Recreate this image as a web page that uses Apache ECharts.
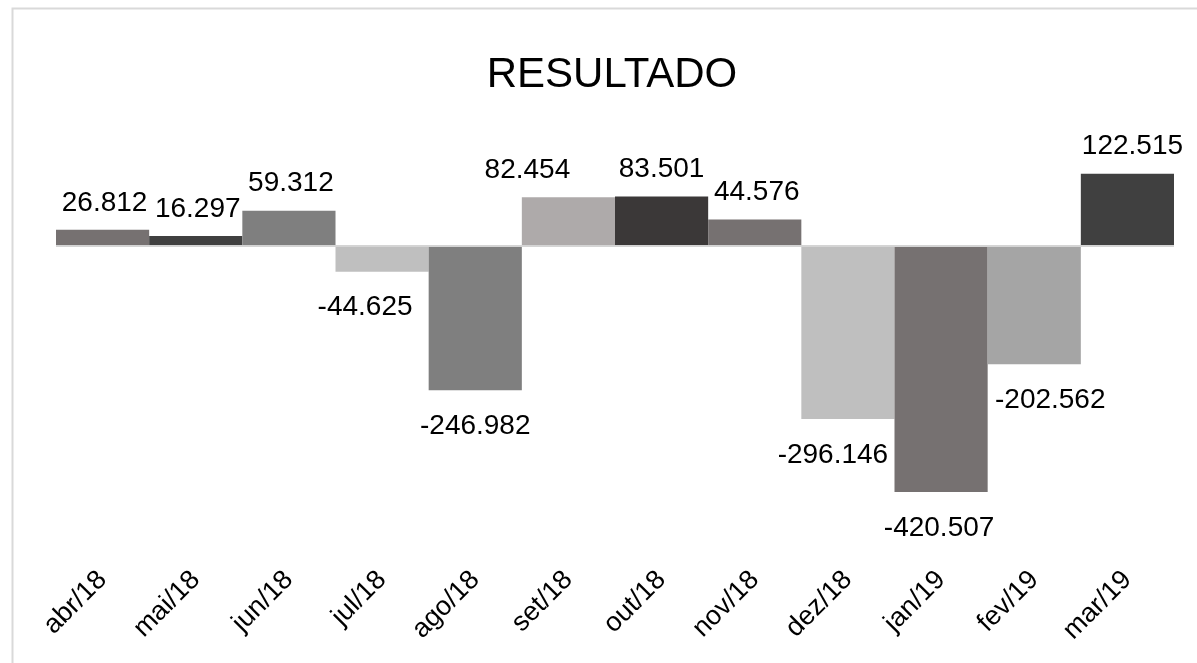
<!DOCTYPE html>
<html>
<head>
<meta charset="utf-8">
<script src="https://cdn.jsdelivr.net/npm/echarts@6/dist/echarts.min.js"></script>
<style>
  html, body { margin: 0; padding: 0; background: #fff; }
  #chart { width: 1197px; height: 663px; }
</style>
</head>
<body>
<div id="chart"></div>
<script>
// dados do gráfico
var meses = ['abr/18', 'mai/18', 'jun/18', 'jul/18', 'ago/18', 'set/18', 'out/18', 'nov/18', 'dez/18', 'jan/19', 'fev/19', 'mar/19'];
var resultado = [26812, 16297, 59312, -44625, -246982, 82454, 83501, 44576, -296146, -420507, -202562, 122515];

// cores de cada barra
var cores = ['#767171', '#404040', '#7f7f7f', '#bfbfbf', '#7f7f7f', '#aeaaaa', '#3b3838', '#767171', '#bfbfbf', '#767171', '#a5a5a5', '#404040'];
// deslocamento horizontal dos rótulos (ajustes manuais do original)
var desloc = [2, 2, 2, -17, 0, -41, 0, 2, -15, -2, 16, 5];

function fmt(v) {
  var s = String(Math.abs(v)).replace(/\B(?=(\d{3})+(?!\d))/g, '.');
  return (v < 0 ? '-' : '') + s;
}

var chart = echarts.init(document.getElementById('chart'));

var dados = resultado.map(function (v, i) {
  return {
    value: v,
    itemStyle: { color: cores[i] },
    label: {
      position: v >= 0 ? 'top' : 'bottom',
      distance: v >= 0 ? 13 : 22,
      offset: [desloc[i], 0]
    }
  };
});

var option = {
  backgroundColor: '#fff',
  animation: false,
  graphic: [
    {
      type: 'rect',
      shape: { x: 12.5, y: 8.5, width: 1300, height: 800 },
      style: { fill: 'none', stroke: '#d9d9d9', lineWidth: 2 },
      silent: true
    },
    {
      type: 'text',
      x: 612,
      y: 75,
      style: {
        text: 'RESULTADO',
        fontSize: 42,
        fontFamily: 'Liberation Sans, Arial, sans-serif',
        fill: '#000',
        align: 'center',
        verticalAlign: 'middle'
      }
    }
  ],
  grid: { left: 56, right: 23, top: 157.6, bottom: 124.5 },
  xAxis: {
    type: 'category',
    data: meses,
    axisLine: { show: false, onZero: false },
    axisTick: { show: false },
    axisLabel: {
      interval: 0,
      rotate: 45,
      margin: 37,
      fontSize: 27,
      color: '#000',
      fontFamily: 'Liberation Sans, Arial, sans-serif'
    }
  },
  yAxis: {
    type: 'value',
    min: -500000,
    max: 150000,
    show: false,
    splitLine: { show: false }
  },
  series: [{
    type: 'bar',
    data: dados,
    barCategoryGap: '0%',
    label: {
      show: true,
      fontSize: 28,
      color: '#000',
      fontFamily: 'Liberation Sans, Arial, sans-serif',
      formatter: function (p) { return fmt(p.value); }
    },
    markLine: {
      silent: true,
      symbol: 'none',
      label: { show: false },
      lineStyle: { color: '#d4d4d4', width: 2, type: 'solid' },
      data: [{ yAxis: 0 }]
    }
  }]
};

chart.setOption(option);
</script>
</body>
</html>
